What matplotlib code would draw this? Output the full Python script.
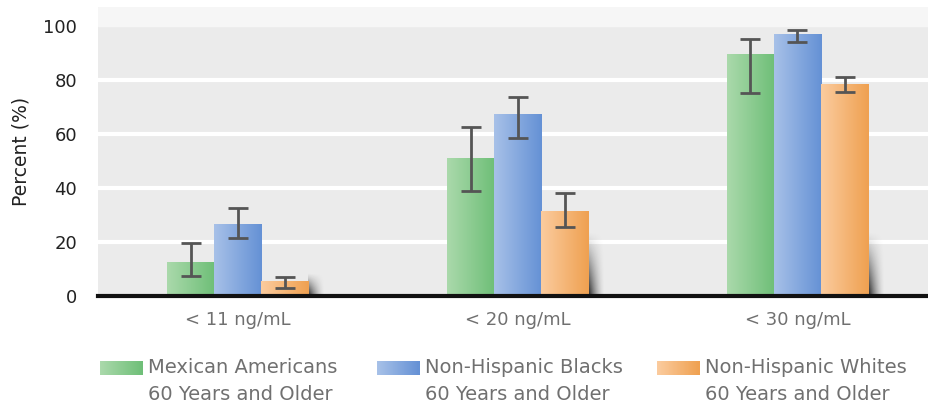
import matplotlib
matplotlib.use("Agg")
import matplotlib.pyplot as plt
import numpy as np
from matplotlib.colors import LinearSegmentedColormap

categories = ["< 11 ng/mL", "< 20 ng/mL", "< 30 ng/mL"]
series = ["Mexican Americans\n60 Years and Older",
          "Non-Hispanic Blacks\n60 Years and Older",
          "Non-Hispanic Whites\n60 Years and Older"]
mexican = [12.5, 51.0, 89.5]
mexican_lo = [7.5, 39.0, 75.0]
mexican_hi = [19.5, 62.5, 95.0]
blacks = [26.5, 67.5, 97.0]
blacks_lo = [21.5, 58.5, 94.0]
blacks_hi = [32.5, 73.5, 98.5]
whites = [5.5, 31.5, 78.5]
whites_lo = [3.0, 25.5, 75.5]
whites_hi = [7.0, 38.0, 81.0]
yticks = [0, 20, 40, 60, 80, 100]

values = [mexican, blacks, whites]
lows = [mexican_lo, blacks_lo, whites_lo]
highs = [mexican_hi, blacks_hi, whites_hi]
grads = [("#aad9ab", "#6fbf78"), ("#a7c1e8", "#6591d5"), ("#fbcb9e", "#efa151")]

fig = plt.figure(figsize=(9.29, 4.08), dpi=100)
ax = fig.add_axes([0.1055, 0.2745, 0.8945, 0.7085])
ax.set_facecolor("#ebebeb")
ax.set_xlim(-0.5, 2.47)
ax.set_ylim(0, 107)
ax.axhspan(100, 107, color="#f6f6f6", zorder=0)
for t in [20, 40, 60, 80]:
    ax.axhline(t, color="white", lw=3, zorder=1)

x = np.arange(len(categories))
w = 0.168
grad = np.linspace(0, 1, 64).reshape(1, -1)
for i in range(3):
    pos = x + (i - 1) * w
    bars = ax.bar(pos, values[i], width=w, color=grads[i][1], zorder=2, linewidth=0)
    cmap = LinearSegmentedColormap.from_list("g%d" % i, [grads[i][0], grads[i][1]])
    for b in bars:
        im = ax.imshow(grad, cmap=cmap, aspect="auto", zorder=3,
                       extent=[b.get_x(), b.get_x() + b.get_width(), 0, b.get_height()])
        im.set_clip_path(b)
        if i == 2:
            # soft drop shadow to the right of the last bar in each group
            sh_h = min(b.get_height() + 3, 24)
            nx, ny = 40, 40
            gx = np.linspace(0, 1, nx)[None, :]
            gy = np.linspace(1, 0, ny)[:, None]
            alpha = np.clip((1 - gx) ** 1.6 * (1 - gy) ** 1.2, 0, 1) * 0.9
            rgba = np.zeros((ny, nx, 4))
            rgba[..., 3] = alpha
            ax.imshow(rgba, aspect="auto", zorder=1.5, interpolation="bilinear",
                      extent=[b.get_x() + b.get_width(), b.get_x() + b.get_width() + 0.06,
                              0, sh_h])
    err = [np.array(values[i]) - np.array(lows[i]), np.array(highs[i]) - np.array(values[i])]
    ax.errorbar(pos, values[i], yerr=err, fmt="none", ecolor="#555555",
                elinewidth=2, capsize=7, capthick=2, zorder=5)

ax.set_xlim(-0.5, 2.47)
ax.set_ylim(0, 107)
ax.set_xticks(x)
ax.set_xticklabels(categories, fontsize=13, color="#707070")
ax.set_yticks(yticks)
ax.set_yticklabels([str(v) for v in yticks], fontsize=13, color="#222222")
ax.tick_params(axis="both", length=0)
ax.tick_params(axis="x", pad=11)
ax.tick_params(axis="y", pad=15)
for s in ["top", "right", "left"]:
    ax.spines[s].set_visible(False)
ax.spines["bottom"].set_linewidth(3)
ax.spines["bottom"].set_color("#111111")
ax.spines["bottom"].set_zorder(6)
ax.set_ylabel("Percent (%)", fontsize=13.5, color="#222222")
ax.yaxis.set_label_coords(-0.081, 0.5)

# legend
W, H = 929.0, 408.0
leg_x = [100, 377, 657]
for i in range(3):
    cmap = LinearSegmentedColormap.from_list("l%d" % i, [grads[i][0], grads[i][1]])
    lax = fig.add_axes([leg_x[i] / W, 1 - 375 / H, 43 / W, 14 / H])
    lax.imshow(np.linspace(0, 1, 32).reshape(1, -1), cmap=cmap, aspect="auto")
    lax.axis("off")
    fig.text((leg_x[i] + 48) / W, 1 - 358 / H, series[i], fontsize=14,
             color="#707070", va="top", ha="left", linespacing=1.5)

fig.savefig("out.png", dpi=100)
